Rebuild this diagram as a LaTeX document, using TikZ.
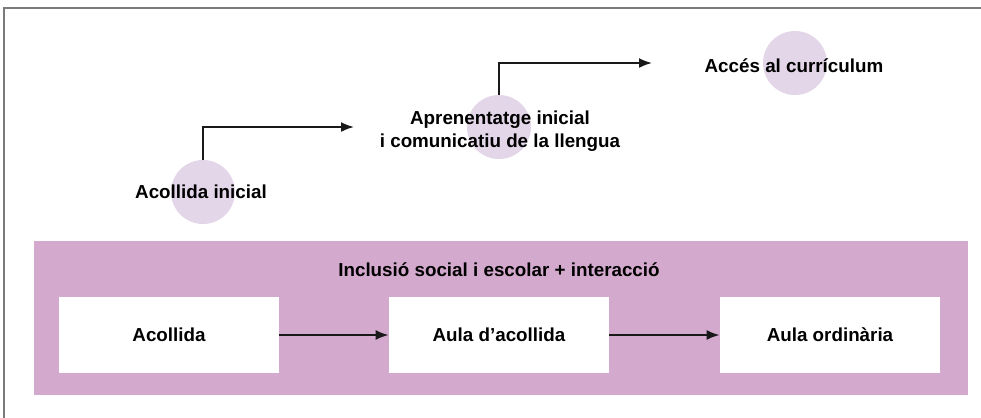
\documentclass[tikz,border=0pt]{standalone}
\usepackage{fontspec}
\setmainfont{Liberation Sans}
\usetikzlibrary{arrows.meta}
\definecolor{bandlila}{HTML}{D3A9CD}
\definecolor{puntlila}{HTML}{E3D6E8}
\definecolor{marcgris}{HTML}{7A7A7A}
\begin{document}
\begin{tikzpicture}[x=0.5pt,y=-0.5pt,
        font=\fontsize{9.4}{11.5}\selectfont\bfseries,
        step dot/.style={circle,fill=puntlila,minimum size=32pt,inner sep=0pt},
        step text/.style={align=center,inner sep=0pt},
        stage box/.style={fill=white,minimum width=110pt,minimum height=38pt,inner sep=0pt},
        flow line/.style={-{Latex[length=6.5pt,width=5pt]},line width=0.9pt,black!90},
    ]
    \path[use as bounding box] (0,0) rectangle (981,418);
    % marc
    \draw[marcgris,line width=0.9pt] (4,418) -- (4,8) -- (981,8);
    % etapes
    \node[step dot] (c1) at (203,192) {};
    \node[step dot] (c2) at (499,127) {};
    \node[step dot] (c3) at (795,63) {};
    \node[step text] (t1) at (201,192) {Acollida inicial};
    \node[step text] (t2) at (500,131) {Aprenentatge inicial\\i comunicatiu de la llengua};
    \node[step text] (t3) at (794,66) {Accés al currículum};
    \coordinate (a1) at (354,127);
    \coordinate (a2) at (652,63);
    \draw[flow line] (c1.north) |- (a1);
    \draw[flow line] (c2.north) |- (a2);
    % franja inferior
    \fill[bandlila] (34,241) rectangle (968,395);
    \node (title) at (499,270) {Inclusió social i escolar + interacció};
    \node[stage box] (b1) at (169,335) {Acollida};
    \node[stage box] (b2) at (499,335) {Aula d’acollida};
    \node[stage box] (b3) at (830,335) {Aula ordinària};
    \draw[flow line] (b1) -- (b2);
    \draw[flow line] (b2) -- (b3);
\end{tikzpicture}
\end{document}
